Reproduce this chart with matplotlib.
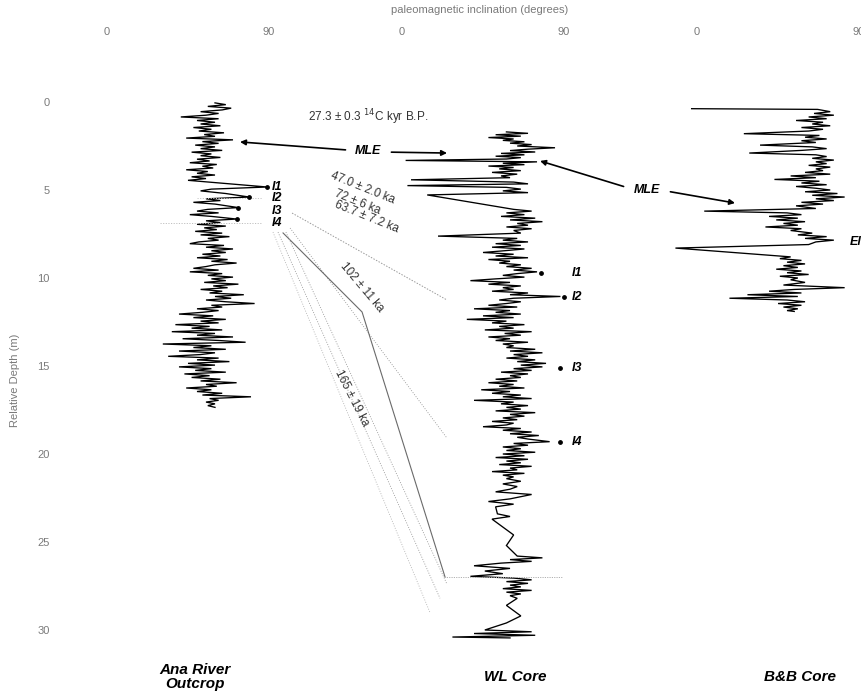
import matplotlib
matplotlib.use("Agg")
import matplotlib.pyplot as plt

plt.rcParams['font.family'] = ['Liberation Sans', 'DejaVu Sans']

# ---------------- data (depth m, inclination deg) ----------------
ANA = [(0.05,60),(0.15,66),(0.25,56),(0.35,69),(0.45,64),(0.55,52),(0.65,62),(0.75,55),(0.85,41),(0.95,62),
       (1.05,50),(1.15,60),(1.25,52),(1.35,63),(1.45,48),(1.55,58),(1.65,51),(1.75,65),(1.85,54),(1.95,60),
       (2.05,44),(2.15,70),(2.25,53),(2.35,62),(2.45,49),(2.55,60),(2.65,52),(2.75,64),(2.85,47),(2.95,58),
       (3.05,52),(3.15,63),(3.25,50),(3.35,57),(3.45,46),(3.55,61),(3.65,53),(3.75,59),(3.85,44),(3.95,56),
       (4.05,50),(4.15,60),(4.25,47),(4.35,55),(4.45,45),(4.83,89),(4.95,58),(5.05,52),(5.2,66),(5.4,79),
       (5.5,55),(5.6,63),(5.7,48),(5.8,60),(6.0,73),(6.1,56),(6.2,50),(6.3,62),(6.4,46),(6.5,58),(6.65,72),
       (6.75,55),(6.85,63),(6.95,50),(7.05,66),(7.15,54),(7.25,61),(7.35,49),(7.45,64),(7.55,52),(7.65,68),
       (7.75,56),(7.85,62),(7.95,51),(8.05,46),(8.15,65),(8.25,55),(8.35,70),(8.45,58),(8.55,66),(8.65,53),
       (8.75,63),(8.85,50),(8.95,67),(9.05,58),(9.15,72),(9.25,60),(9.35,55),(9.45,48),(9.55,62),(9.65,46),
       (9.75,64),(9.85,56),(9.95,70),(10.05,58),(10.15,66),(10.25,54),(10.35,73),(10.45,59),(10.55,67),(10.65,52),
       (10.75,64),(10.85,57),(10.95,76),(11.05,60),(11.15,69),(11.25,55),(11.35,66),(11.45,82),(11.55,58),(11.65,64),
       (11.75,50),(11.85,62),(11.95,53),(12.05,40),(12.15,59),(12.25,48),(12.35,66),(12.45,52),(12.55,62),(12.65,38),
       (12.75,57),(12.85,47),(12.95,64),(13.05,36),(13.15,60),(13.25,50),(13.35,70),(13.45,42),(13.55,62),(13.65,77),
       (13.75,31),(13.85,58),(13.95,48),(14.05,66),(14.15,40),(14.25,60),(14.35,52),(14.45,34),(14.55,62),(14.65,50),
       (14.75,68),(14.85,45),(14.95,60),(15.05,40),(15.15,58),(15.25,49),(15.35,66),(15.45,43),(15.55,57),(15.65,47),
       (15.75,63),(15.85,52),(15.95,72),(16.05,55),(16.15,61),(16.25,44),(16.35,58),(16.45,50),(16.55,64),(16.65,53),
       (16.75,80),(16.85,57),(16.95,62),(17.05,55),(17.15,60),(17.25,56),(17.35,60)]

WL = [(1.70,58),(1.78,70),(1.86,52),(1.94,66),(2.02,48),(2.10,62),(2.18,56),(2.26,68),(2.34,60),(2.42,72),
      (2.50,64),(2.60,85),(2.68,70),(2.76,60),(2.84,74),(2.92,55),(3.00,68),(3.08,52),(3.16,66),(3.24,58),
      (3.32,2),(3.40,75),(3.48,56),(3.56,68),(3.64,48),(3.72,62),(3.80,54),(3.90,66),(4.00,50),(4.10,64),
      (4.20,55),(4.30,60),(4.42,5),(4.55,62),(4.65,70),(4.75,3),(4.85,58),(4.95,66),(5.05,56),(5.15,70),
      (5.28,14),(6.10,62),(6.20,72),(6.30,58),(6.40,68),(6.50,55),(6.60,74),(6.70,60),(6.80,78),(6.90,64),
      (7.00,70),(7.10,58),(7.20,72),(7.30,62),(7.45,66),(7.62,20),(7.75,64),(7.85,56),(7.95,70),(8.05,52),
      (8.15,66),(8.25,50),(8.35,68),(8.45,57),(8.55,45),(8.65,62),(8.75,52),(8.85,70),(8.95,48),(9.05,60),
      (9.15,54),(9.25,66),(9.35,58),(9.45,72),(9.55,62),(9.65,75),(9.75,64),(9.85,56),(9.95,68),(10.05,52),
      (10.15,38),(10.25,60),(10.35,48),(10.45,66),(10.55,56),(10.65,62),(10.75,50),(10.85,70),(10.95,60),(11.05,88),
      (11.15,62),(11.25,54),(11.35,66),(11.45,58),(11.55,48),(11.65,64),(11.75,40),(11.85,60),(11.95,52),(12.05,66),
      (12.15,45),(12.25,62),(12.35,36),(12.45,58),(12.55,50),(12.65,68),(12.75,54),(12.85,62),(12.95,46),(13.05,72),
      (13.15,57),(13.25,66),(13.35,48),(13.45,60),(13.55,52),(13.65,70),(13.75,56),(13.85,62),(13.95,58),(14.05,74),
      (14.15,60),(14.25,78),(14.35,62),(14.45,70),(14.55,58),(14.65,74),(14.75,64),(14.85,80),(14.95,66),(15.05,78),
      (15.15,62),(15.25,72),(15.35,55),(15.45,70),(15.55,60),(15.65,66),(15.75,52),(15.85,64),(15.95,48),(16.05,62),
      (16.15,54),(16.25,68),(16.35,44),(16.45,60),(16.55,50),(16.65,66),(16.75,56),(16.85,72),(16.95,40),(17.05,62),
      (17.15,55),(17.25,70),(17.35,58),(17.45,66),(17.55,52),(17.65,74),(17.75,60),(17.85,68),(17.95,56),(18.05,64),
      (18.15,50),(18.25,62),(18.35,58),(18.45,45),(18.55,66),(18.65,56),(18.75,72),(18.85,60),(18.95,76),(19.05,64),
      (19.15,70),(19.30,82),(19.40,62),(19.50,70),(19.60,56),(19.70,66),(19.80,58),(19.90,74),(20.00,56),(20.10,68),
      (20.20,52),(20.30,70),(20.40,58),(20.50,66),(20.60,54),(20.70,72),(20.80,60),(20.90,64),(21.00,50),(21.10,68),
      (21.20,56),(21.30,62),(21.40,58),(21.55,66),(21.70,56),(21.85,64),(22.00,60),(22.15,52),(22.30,72),(22.55,60),
      (22.70,48),(22.85,62),(23.00,52),(23.40,53),(23.55,60),(23.70,50),(24.60,62),(25.20,58),(25.80,64),(25.90,78),
      (26.00,60),(26.10,72),(26.20,55),(26.35,40),(26.50,60),(26.65,46),(26.80,56),(26.95,38),(27.05,62),(27.15,72),
      (27.25,58),(27.35,70),(27.45,60),(27.55,66),(27.65,56),(27.75,72),(27.85,58),(27.95,66),(28.05,60),(28.20,64),
      (28.60,58),(29.20,66),(29.60,58),(30.00,46),(30.10,72),(30.20,40),(30.30,74),(30.40,28),(30.45,60)]

BB = [(0.38,-3),(0.42,67),(0.55,74),(0.65,65),(0.75,76),(0.85,62),(0.95,72),(1.05,55),(1.15,70),(1.25,64),
      (1.35,74),(1.45,58),(1.55,70),(1.65,62),(1.80,26),(1.90,68),(2.00,60),(2.10,72),(2.20,58),(2.30,66),
      (2.45,35),(2.55,64),(2.65,72),(2.75,58),(2.90,29),(3.00,66),(3.10,72),(3.20,64),(3.30,76),(3.40,66),
      (3.50,72),(3.60,62),(3.70,74),(3.80,66),(3.90,70),(4.00,60),(4.10,74),(4.20,52),(4.30,66),(4.40,43),
      (4.50,68),(4.60,58),(4.70,72),(4.80,55),(4.90,66),(5.00,74),(5.10,60),(5.20,78),(5.30,64),(5.40,82),
      (5.50,66),(5.60,76),(5.70,58),(5.80,70),(5.90,55),(6.05,66),(6.20,4),(6.30,50),(6.40,58),(6.50,40),
      (6.60,56),(6.70,44),(6.80,60),(6.90,48),(7.00,56),(7.10,38),(7.20,58),(7.30,52),(7.45,64),(7.55,56),
      (7.65,72),(7.75,60),(7.85,76),(7.95,66),(8.10,62),(8.30,-12),(8.80,52),(8.90,46),(9.00,58),(9.10,50),
      (9.20,60),(9.30,48),(9.40,56),(9.50,44),(9.60,58),(9.70,50),(9.80,62),(9.90,46),(10.00,56),(10.10,52),
      (10.25,60),(10.40,48),(10.55,82),(10.65,54),(10.75,40),(10.85,58),(10.95,28),(11.05,56),(11.15,18),(11.25,50),
      (11.35,60),(11.45,45),(11.55,58),(11.65,48),(11.75,56),(11.85,50),(11.90,54)]

core_names = ["Ana River\nOutcrop", "WL Core", "B&B Core"]
i_labels = ["I1", "I2", "I3", "I4"]
ana_i_depth = [4.83, 5.40, 6.02, 6.65]
ana_i_incl = [89, 79, 73, 72]
wl_i_depth = [9.72, 11.08, 15.11, 19.32]
wl_i_incl = [77, 90, 88, 88]
ages_upper = ["47.0 ± 2.0 ka", "72 ± 6 ka", "63.7 ± 7.2 ka"]
age_102 = "102 ± 11 ka"
age_165 = "165 ± 19 ka"
c14_text = r"27.3 ± 0.3 $^{14}$C kyr B.P."
depth_ticks = [0, 5, 10, 15, 20, 25, 30]
incl_ticks = [0, 90]

# ---------------- layout ----------------
OFF = {"ana": 0.0, "wl": 163.9, "bb": 327.8}   # horizontal panel offsets (deg units)
W, H = 861, 694
PXD = 1.8      # px per degree
PXM = 17.6     # px per metre
X0, Y0 = 107, 102   # pixel of Ana 0 deg / depth 0

fig = plt.figure(figsize=(W/100, H/100), dpi=100)
L, R, T, B = 60, 900, 50, 650
ax = fig.add_axes([L/W, 1-B/H, (R-L)/W, (B-T)/H])
ax.set_xlim((L-X0)/PXD, (R-X0)/PXD)
ax.set_ylim((B-Y0)/PXM, (T-Y0)/PXM)
for s in ax.spines.values():
    s.set_visible(False)

gray = "#7a7a7a"
xt, xl = [], []
for k in ["ana", "wl", "bb"]:
    for t in incl_ticks:
        xt.append(OFF[k] + t)
        xl.append(str(t))
ax.xaxis.tick_top()
ax.set_xticks(xt)
ax.set_xticklabels(xl)
ax.set_yticks(depth_ticks)
ax.set_yticklabels([str(t) for t in depth_ticks])
ax.tick_params(axis="x", length=0, pad=9.5, labelsize=8, labelcolor=gray)
ax.tick_params(axis="y", length=0, pad=7.5, labelsize=8, labelcolor=gray)

fig.text(480/W, 1-10/H, "paleomagnetic inclination (degrees)", ha="center", va="center",
         fontsize=8, color=gray)
fig.text(15/W, 1-380/H, "Relative Depth (m)", ha="center", va="center", rotation=90,
         fontsize=8, color=gray)

# ---------------- traces ----------------
for key, rec in [("ana", ANA), ("wl", WL), ("bb", BB)]:
    d, v = zip(*rec)
    ax.plot([OFF[key] + x for x in v], d, color="black", lw=0.95, solid_joinstyle="miter")

# tie / correlation lines (Ana -> WL)
tie_gray = "#9a9a9a"
ax.plot([102.8, 188.9], [6.31, 11.25], color=tie_gray, lw=0.7, ls=(0, (1.5, 1.5)))
ax.plot([101.7, 188.9], [7.16, 19.1], color=tie_gray, lw=0.6, ls=(0, (1.2, 1.8)))
ax.plot([97.8, 141.7, 187.8], [7.44, 11.93, 26.99], color="#6a6a6a", lw=0.8)
ax.plot([99.4, 188.9], [7.39, 27.4], color=tie_gray, lw=0.6, ls=(0, (1.2, 1.8)))
ax.plot([95.0, 185.0], [7.39, 28.2], color=tie_gray, lw=0.6, ls=(0, (1.2, 1.8)))
ax.plot([92.2, 179.4], [7.39, 29.0], color="#b5b5b5", lw=0.6, ls=(0, (1.2, 1.8)))
ax.plot([187.0, 252.8], [27.0, 27.0], color="#b0b0b0", lw=0.7, ls=(0, (1.2, 1.2)))
ax.plot([29.4, 86.0], [6.88, 6.88], color="#c0c0c0", lw=0.7, ls=(0, (1.2, 1.5)))
ax.plot([50.0, 86.0], [5.45, 5.45], color="#c8c8c8", lw=0.7, ls=(0, (1.2, 1.5)))

# I markers
ax.scatter([OFF["ana"] + v for v in ana_i_incl], ana_i_depth, s=6, color="black", zorder=5)
ax.scatter([OFF["wl"] + v for v in wl_i_incl], wl_i_depth, s=6, color="black", zorder=5)
lab_y_ana = [4.83, 5.45, 6.2, 6.9]
for lab, dy in zip(i_labels, lab_y_ana):
    ax.text(91.7, dy, lab, fontsize=9, fontweight="bold", fontstyle="italic",
            ha="left", va="center")
for lab, dy in zip(i_labels, wl_i_depth):
    ax.text(258.3, dy, lab, fontsize=9, fontweight="bold", fontstyle="italic",
            ha="left", va="center")
ax.text(412.8, 7.95, "El", fontsize=9, fontweight="bold", fontstyle="italic",
        ha="left", va="center", clip_on=False)

# text annotations
tc = "#333333"
ax.text(145, 0.85, c14_text, fontsize=8.5, color=tc, ha="center", va="center")
for txt, (x, y) in zip(ages_upper, [(142.2, 4.89), (139.4, 5.68), (144.4, 6.53)]):
    ax.text(x, y, txt, fontsize=8.5, color=tc, ha="center", va="center", rotation=-22,
            rotation_mode="anchor")
ax.text(141.7, 10.5, age_102, fontsize=8.5, color=tc, ha="center", va="center", rotation=-50,
        rotation_mode="anchor")
ax.text(136.0, 16.8, age_165, fontsize=8.5, color=tc, ha="center", va="center", rotation=-63,
        rotation_mode="anchor")

# MLE arrows
ap = dict(arrowstyle="-|>", color="black", lw=1.2, mutation_scale=8, shrinkA=0, shrinkB=0)
ax.text(145, 2.8, "MLE", fontsize=9, fontweight="bold", fontstyle="italic", ha="center", va="center")
ax.annotate("", xy=(73.9, 2.27), xytext=(132.5, 2.72), arrowprops=ap)
ax.annotate("", xy=(188.9, 2.9), xytext=(158.0, 2.85), arrowprops=ap)
ax.text(300, 5.0, "MLE", fontsize=9, fontweight="bold", fontstyle="italic", ha="center", va="center")
ax.annotate("", xy=(240.6, 3.35), xytext=(287.0, 4.8), arrowprops=ap)
ax.annotate("", xy=(348.9, 5.74), xytext=(313.0, 5.1), arrowprops=ap)

# core names
for name, x in zip(core_names, [OFF["ana"] + 49, OFF["wl"] + 63, OFF["bb"] + 57]):
    ax.text(x, 32.65, name, fontsize=11, fontweight="bold", fontstyle="italic",
            ha="center", va="center", linespacing=1.0, clip_on=False)

fig.savefig("out.png", dpi=100)
